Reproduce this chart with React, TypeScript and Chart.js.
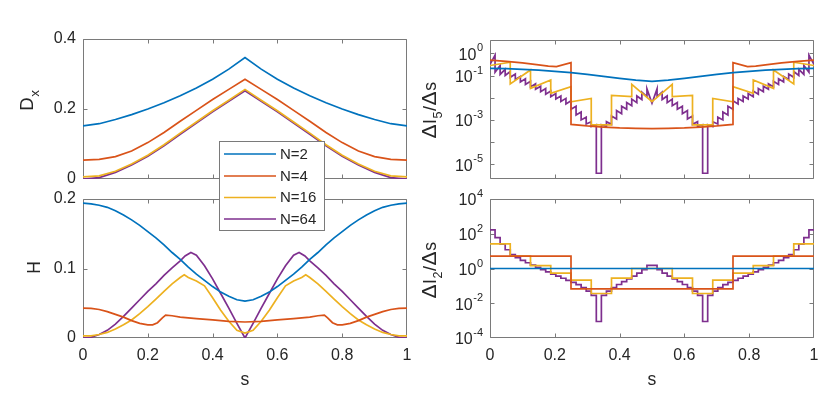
import React, { useEffect, useRef } from 'react';
import { Chart, registerables } from 'chart.js';

Chart.register(...registerables);

// ---------- legend / colours ----------
const seriesLabels = ['N=2', 'N=4', 'N=16', 'N=64'];
const seriesColors = ['#0072BD', '#D95319', '#EDB120', '#7E2F8E'];

// ---------- ticks ----------
const xTickValues = [0, 0.2, 0.4, 0.6, 0.8, 1];
const xTickLabels = ['0', '0.2', '0.4', '0.6', '0.8', '1'];
const dxTickValues = [0, 0.2, 0.4];
const dxTickLabels = ['0', '0.2', '0.4'];
const hTickValues = [0, 0.1, 0.2];
const hTickLabels = ['0', '0.1', '0.2'];
const i5TickExps = [-5, -4, -3, -2, -1, 0];
const i5LabelExps = [-5, -3, -1, 0];
const i2TickExps = [-4, -2, 0, 2, 4];
const i2LabelExps = [-4, -2, 0, 2, 4];

// ---------- panel 1: D_x ----------
const sCoarse = [0, 0.05, 0.1, 0.15, 0.2, 0.25, 0.3, 0.35, 0.4, 0.45, 0.5, 0.55, 0.6, 0.65, 0.7, 0.75, 0.8, 0.85, 0.9, 0.95, 1];
const dxN2 = [0.152, 0.158, 0.170, 0.184, 0.200, 0.218, 0.238, 0.260, 0.285, 0.314, 0.347, 0.314, 0.285, 0.260, 0.238, 0.218, 0.200, 0.184, 0.170, 0.158, 0.152];
const dxN4 = [0.054, 0.056, 0.064, 0.080, 0.104, 0.133, 0.165, 0.196, 0.227, 0.256, 0.285, 0.256, 0.227, 0.196, 0.165, 0.133, 0.104, 0.080, 0.064, 0.056, 0.054];
const dxN16 = [0.006, 0.009, 0.022, 0.043, 0.068, 0.098, 0.131, 0.163, 0.195, 0.225, 0.256, 0.225, 0.195, 0.163, 0.131, 0.098, 0.068, 0.043, 0.022, 0.009, 0.006];
const dxN64 = [0.000, 0.004, 0.019, 0.040, 0.065, 0.095, 0.128, 0.160, 0.192, 0.222, 0.252, 0.222, 0.192, 0.160, 0.128, 0.095, 0.065, 0.040, 0.019, 0.004, 0.000];

// ---------- panel 2: H ----------
const sFine = [0, 0.025, 0.05, 0.075, 0.1, 0.125, 0.15, 0.175, 0.2, 0.225, 0.25, 0.275, 0.3, 0.325, 0.35, 0.375, 0.4, 0.425, 0.45, 0.475, 0.5,
  0.525, 0.55, 0.575, 0.6, 0.625, 0.65, 0.675, 0.7, 0.725, 0.75, 0.775, 0.8, 0.825, 0.85, 0.875, 0.9, 0.925, 0.95, 0.975, 1];
const hN2 = [0.194, 0.193, 0.191, 0.188, 0.183, 0.177, 0.170, 0.162, 0.153, 0.144, 0.134, 0.123, 0.113, 0.102, 0.092, 0.083, 0.074, 0.066, 0.060, 0.055, 0.053,
  0.055, 0.060, 0.066, 0.074, 0.083, 0.092, 0.102, 0.113, 0.123, 0.134, 0.144, 0.153, 0.162, 0.170, 0.177, 0.183, 0.188, 0.191, 0.193, 0.194];
const hN64S = [0, 0.025, 0.05, 0.075, 0.1, 0.125, 0.15, 0.175, 0.2, 0.225, 0.25, 0.275, 0.3, 0.315, 0.333, 0.35, 0.375, 0.4, 0.425, 0.45, 0.475, 0.5,
  0.525, 0.55, 0.575, 0.6, 0.625, 0.65, 0.667, 0.685, 0.7, 0.725, 0.75, 0.775, 0.8, 0.825, 0.85, 0.875, 0.9, 0.925, 0.95, 0.975, 1];
const hN64 = [0.000, 0.001, 0.005, 0.011, 0.020, 0.031, 0.043, 0.055, 0.067, 0.078, 0.090, 0.101, 0.111, 0.118, 0.123, 0.119, 0.104, 0.085, 0.064, 0.043, 0.021, 0.000,
  0.021, 0.043, 0.064, 0.085, 0.104, 0.119, 0.123, 0.118, 0.111, 0.101, 0.090, 0.078, 0.067, 0.055, 0.043, 0.031, 0.020, 0.011, 0.005, 0.001, 0.000];
const hN4S = [0, 0.025, 0.05, 0.075, 0.1, 0.125, 0.15, 0.175, 0.2, 0.215, 0.23, 0.245, 0.255, 0.275, 0.3, 0.35, 0.4, 0.45, 0.5,
  0.55, 0.6, 0.65, 0.7, 0.725, 0.745, 0.755, 0.77, 0.785, 0.8, 0.825, 0.85, 0.875, 0.9, 0.925, 0.95, 0.975, 1];
const hN4 = [0.043, 0.0425, 0.041, 0.038, 0.034, 0.030, 0.025, 0.021, 0.019, 0.019, 0.022, 0.029, 0.033, 0.032, 0.030, 0.028, 0.026, 0.024, 0.023,
  0.024, 0.026, 0.028, 0.030, 0.032, 0.033, 0.029, 0.022, 0.019, 0.019, 0.021, 0.025, 0.030, 0.034, 0.038, 0.041, 0.0425, 0.043];
const hN16S = [0, 0.025, 0.05, 0.075, 0.1, 0.125, 0.15, 0.175, 0.2, 0.225, 0.25, 0.275, 0.3, 0.3125, 0.325, 0.35, 0.375, 0.4, 0.425, 0.45, 0.475, 0.5,
  0.525, 0.55, 0.575, 0.6, 0.625, 0.65, 0.675, 0.6875, 0.7, 0.725, 0.75, 0.775, 0.8, 0.825, 0.85, 0.875, 0.9, 0.925, 0.95, 0.975, 1];
const hN16 = [0.003, 0.003, 0.005, 0.008, 0.013, 0.019, 0.026, 0.035, 0.045, 0.056, 0.067, 0.078, 0.087, 0.091, 0.087, 0.082, 0.075, 0.058, 0.040, 0.024, 0.011, 0.007,
  0.011, 0.024, 0.040, 0.058, 0.075, 0.082, 0.087, 0.091, 0.087, 0.078, 0.067, 0.056, 0.045, 0.035, 0.026, 0.019, 0.013, 0.008, 0.005, 0.003, 0.003];

// ---------- panel 3: dI5/ds (log10 of the value) ----------
const i5N2Exp = [-0.68, -0.69, -0.72, -0.76, -0.81, -0.87, -0.95, -1.04, -1.13, -1.21, -1.26, -1.21, -1.13, -1.04, -0.95, -0.87, -0.81, -0.76, -0.72, -0.69, -0.68];
const i5N4S = [0, 0.05, 0.1, 0.15, 0.18, 0.205, 0.25, 0.25, 0.3, 0.35, 0.4, 0.45, 0.5, 0.55, 0.6, 0.65, 0.7, 0.75, 0.75, 0.795, 0.82, 0.85, 0.9, 0.95, 1];
const i5N4Exp = [-0.31, -0.36, -0.43, -0.52, -0.575, -0.60, -0.42, -3.20, -3.27, -3.32, -3.36, -3.38, -3.39, -3.38, -3.36, -3.32, -3.27, -3.20, -0.42, -0.60, -0.575, -0.52, -0.43, -0.36, -0.31];
const i5N16StartExp = [-0.55, -1.38, -1.58, -1.80, -2.18, -3.22, -1.90, -1.40, -2.18, -1.95, -3.22, -2.03, -1.50, -1.20, -0.75, -0.40];
const i5N16EndExp = [-0.40, -0.75, -1.20, -1.50, -2.03, -3.22, -1.95, -2.18, -1.40, -1.90, -3.22, -2.18, -1.80, -1.58, -1.38, -0.55];
const i5N64StartExp = [
  -0.50, -0.85, -0.95, -1.00, -1.08, -1.18, -1.29, -1.40, -1.51, -1.62, -1.73, -1.84, -1.95, -2.06, -2.17, -2.28,
  -2.52, -2.78, -3.00, -3.18, -3.30, -5.40, -3.22, -3.08, -2.82, -2.58, -2.38, -2.22, -2.06, -1.92, -1.75, -1.60,
  -2.25, -1.95, -2.08, -2.22, -2.36, -2.52, -2.72, -2.96, -3.20, -3.30, -5.40, -3.22, -3.08, -2.88, -2.64, -2.38,
  -2.14, -2.03, -1.92, -1.81, -1.70, -1.59, -1.48, -1.37, -1.26, -1.15, -1.04, -0.93, -0.82, -0.72, -0.55, -0.08];
const i5N64EndExp = [
  -0.08, -0.55, -0.72, -0.82, -0.93, -1.04, -1.15, -1.26, -1.37, -1.48, -1.59, -1.70, -1.81, -1.92, -2.03, -2.14,
  -2.38, -2.64, -2.88, -3.08, -3.22, -5.40, -3.30, -3.20, -2.96, -2.72, -2.52, -2.36, -2.22, -2.08, -1.95, -2.25,
  -1.60, -1.75, -1.92, -2.06, -2.22, -2.38, -2.58, -2.82, -3.08, -3.22, -5.40, -3.30, -3.18, -3.00, -2.78, -2.52,
  -2.28, -2.17, -2.06, -1.95, -1.84, -1.73, -1.62, -1.51, -1.40, -1.29, -1.18, -1.08, -1.00, -0.95, -0.85, -0.50];

// ---------- panel 4: dI2/ds (log10 of the piecewise-constant value) ----------
const i2N2Exp = [0, 0];
const i2N4Exp = [0.71, -1.17, -1.17, 0.71];
const i2N16Exp = [1.42, 0.71, 0.17, -0.27, -0.67, -1.44, -0.55, 0.0, 0.0, -0.55, -1.44, -0.67, -0.27, 0.17, 0.71, 1.42];
const i2N64Exp = [
  2.22, 1.78, 1.40, 1.08, 0.80, 0.62, 0.47, 0.33, 0.20, 0.07, -0.06, -0.19, -0.32, -0.44, -0.56, -0.68,
  -0.80, -0.93, -1.10, -1.30, -1.55, -3.05, -1.55, -1.30, -1.10, -0.92, -0.76, -0.60, -0.44, -0.27, -0.06, 0.18,
  0.18, -0.06, -0.27, -0.44, -0.60, -0.76, -0.92, -1.10, -1.30, -1.55, -3.05, -1.55, -1.30, -1.10, -0.93, -0.80,
  -0.68, -0.56, -0.44, -0.32, -0.19, -0.06, 0.07, 0.20, 0.33, 0.47, 0.62, 0.80, 1.08, 1.40, 1.78, 2.22];

// ---------- helpers ----------
const FONT = '"Liberation Sans", Arial, Helvetica, sans-serif';
const TEXT = '#262626';
const AXIS = '#7a7a7a';
const TICK_LEN = 4;

type Pt = { x: number; y: number };
const zipPts = (xs: number[], ys: number[]): Pt[] => xs.map((x, i) => ({ x, y: ys[i] }));
const zipExpPts = (xs: number[], es: number[]): Pt[] => xs.map((x, i) => ({ x, y: Math.pow(10, es[i]) }));
function segPts(startExp: number[], endExp: number[]): Pt[] {
  const n = startExp.length;
  const pts: Pt[] = [];
  for (let k = 0; k < n; k++) {
    pts.push({ x: k / n, y: Math.pow(10, startExp[k]) });
    pts.push({ x: (k + 1) / n, y: Math.pow(10, endExp[k]) });
  }
  return pts;
}

type Part = { text: string; sub?: boolean; size?: number };
interface Deco {
  yTicks: number[];
  yLabels: { value: number; text: string; exp?: string }[];
  xLabels: boolean;
  yTitle: Part[];
  yTitleX: number;
  yTitleY: number;
  xTitle?: string;
  legend?: boolean;
}

function drawRotated(ctx: CanvasRenderingContext2D, parts: Part[], bx: number, cy: number) {
  const fontOf = (p: Part) => `${p.size ?? (p.sub ? 12.5 : 17.6)}px ${FONT}`;
  ctx.save();
  ctx.translate(bx, cy);
  ctx.rotate(-Math.PI / 2);
  let total = 0;
  const widths = parts.map((p) => {
    ctx.font = fontOf(p);
    const w = ctx.measureText(p.text).width + 0.6;
    total += w;
    return w;
  });
  let x = -total / 2;
  ctx.textAlign = 'left';
  ctx.textBaseline = 'alphabetic';
  ctx.fillStyle = TEXT;
  parts.forEach((p, i) => {
    ctx.font = fontOf(p);
    ctx.fillText(p.text, x, p.sub ? 5.5 : 0);
    x += widths[i];
  });
  ctx.restore();
}

function decoPlugin(d: Deco) {
  return {
    id: 'matlabDeco',
    beforeDatasetsDraw(chart: any) {
      const { ctx, chartArea: a, scales } = chart;
      const L = a.left + 0.5, R = a.right - 0.5, T = a.top + 0.5, B = a.bottom - 0.5;
      ctx.save();
      ctx.strokeStyle = AXIS;
      ctx.lineWidth = 1;
      ctx.beginPath();
      ctx.rect(L, T, R - L, B - T);
      for (const v of xTickValues) {
        let px = Math.round(scales.x.getPixelForValue(v)) + 0.5;
        px = Math.min(Math.max(px, L), R);
        ctx.moveTo(px, B); ctx.lineTo(px, B - TICK_LEN);
        ctx.moveTo(px, T); ctx.lineTo(px, T + TICK_LEN);
      }
      for (const v of d.yTicks) {
        let py = Math.round(scales.y.getPixelForValue(v)) + 0.5;
        py = Math.min(Math.max(py, T), B);
        ctx.moveTo(L, py); ctx.lineTo(L + TICK_LEN, py);
        ctx.moveTo(R, py); ctx.lineTo(R - TICK_LEN, py);
      }
      ctx.stroke();

      ctx.fillStyle = TEXT;
      for (const lab of d.yLabels) {
        const py = scales.y.getPixelForValue(lab.value);
        const xr = a.left - 7;
        if (lab.exp !== undefined) {
          ctx.font = `11px ${FONT}`;
          ctx.textAlign = 'right';
          ctx.textBaseline = 'alphabetic';
          const ew = ctx.measureText(lab.exp).width;
          ctx.fillText(lab.exp, xr, py - 2);
          ctx.font = `16px ${FONT}`;
          ctx.textBaseline = 'middle';
          ctx.fillText(lab.text, xr - ew - 0.5, py + 2);
        } else {
          ctx.font = `16px ${FONT}`;
          ctx.textAlign = 'right';
          ctx.textBaseline = 'middle';
          ctx.fillText(lab.text, xr, py);
        }
      }
      if (d.xLabels) {
        ctx.font = `16px ${FONT}`;
        ctx.textAlign = 'center';
        ctx.textBaseline = 'middle';
        xTickValues.forEach((v, i) => {
          ctx.fillText(xTickLabels[i], scales.x.getPixelForValue(v), a.bottom + 18);
        });
      }
      if (d.xTitle) {
        ctx.font = `17.6px ${FONT}`;
        ctx.textAlign = 'center';
        ctx.textBaseline = 'middle';
        ctx.fillText(d.xTitle, (a.left + a.right) / 2, a.bottom + 42);
      }
      ctx.restore();
      drawRotated(ctx, d.yTitle, d.yTitleX, d.yTitleY);
    },
    afterDraw(chart: any) {
      if (!d.legend) return;
      const ctx: CanvasRenderingContext2D = chart.ctx;
      ctx.save();
      ctx.fillStyle = '#ffffff';
      ctx.fillRect(219.5, 141.5, 105, 89);
      ctx.strokeStyle = AXIS;
      ctx.lineWidth = 1;
      ctx.strokeRect(219.5, 141.5, 105, 89);
      const rows = [154, 176, 197.5, 219];
      ctx.font = `15px ${FONT}`;
      ctx.textAlign = 'left';
      ctx.textBaseline = 'middle';
      seriesLabels.forEach((lab, i) => {
        ctx.strokeStyle = seriesColors[i];
        ctx.lineWidth = 1.7;
        ctx.beginPath();
        ctx.moveTo(224, rows[i]);
        ctx.lineTo(276, rows[i]);
        ctx.stroke();
        ctx.fillStyle = TEXT;
        ctx.fillText(lab, 280, rows[i] + 0.5);
      });
      ctx.restore();
    },
  };
}

function ds(data: Pt[], i: number) {
  return {
    label: seriesLabels[i],
    data,
    borderColor: seriesColors[i],
    backgroundColor: seriesColors[i],
    borderWidth: 1.7,
    pointRadius: 0,
    fill: false,
    tension: 0,
  };
}

type Rect = { l: number; t: number; r: number; b: number };
function makeConfig(datasets: any[], yScale: any, rect: Rect, deco: Deco): any {
  return {
    type: 'line',
    data: { datasets },
    options: {
      animation: false,
      responsive: false,
      devicePixelRatio: 1,
      events: [],
      layout: { padding: { left: rect.l, top: rect.t, right: 830 - rect.r, bottom: 398 - rect.b } },
      plugins: { legend: { display: false }, tooltip: { enabled: false } },
      scales: {
        x: { type: 'linear', min: 0, max: 1, display: false, bounds: 'data' },
        y: { ...yScale, display: false, bounds: 'data' },
      },
    },
    plugins: [decoPlugin(deco)],
  };
}

export default function App() {
  const r1 = useRef<HTMLCanvasElement>(null);
  const r2 = useRef<HTMLCanvasElement>(null);
  const r3 = useRef<HTMLCanvasElement>(null);
  const r4 = useRef<HTMLCanvasElement>(null);

  useEffect(() => {
    const cTL = makeConfig(
      [ds(zipPts(sCoarse, dxN2), 0), ds(zipPts(sCoarse, dxN4), 1), ds(zipPts(sCoarse, dxN16), 2), ds(zipPts(sCoarse, dxN64), 3)],
      { type: 'linear', min: 0, max: 0.4 },
      { l: 83, t: 39, r: 407, b: 179 },
      {
        yTicks: dxTickValues,
        yLabels: dxTickValues.map((v, i) => ({ value: v, text: dxTickLabels[i] })),
        xLabels: false,
        yTitle: [{ text: 'D', size: 18.5 }, { text: 'x', sub: true, size: 13.5 }],
        yTitleX: 33,
        yTitleY: 100,
      }
    );
    const titleI = (n: string): Part[] => [
      { text: '\u0394', size: 21 }, { text: 'I' }, { text: n, sub: true }, { text: '/' }, { text: '\u0394', size: 21 }, { text: 's' },
    ];
    const cTR = makeConfig(
      [ds(zipExpPts(sCoarse, i5N2Exp), 0), ds(zipExpPts(i5N4S, i5N4Exp), 1), ds(segPts(i5N16StartExp, i5N16EndExp), 2), ds(segPts(i5N64StartExp, i5N64EndExp), 3)],
      { type: 'logarithmic', min: Math.pow(10, -5.66), max: Math.pow(10, 0.6) },
      { l: 490, t: 40, r: 814, b: 179 },
      {
        yTicks: i5TickExps.map((e) => Math.pow(10, e)),
        yLabels: i5LabelExps.map((e) => ({ value: Math.pow(10, e), text: '10', exp: String(e) })),
        xLabels: false,
        yTitle: titleI('5'),
        yTitleX: 436,
        yTitleY: 110,
      }
    );
    const cBR = makeConfig(
      [ds(segPts(i2N2Exp, i2N2Exp), 0), ds(segPts(i2N4Exp, i2N4Exp), 1), ds(segPts(i2N16Exp, i2N16Exp), 2), ds(segPts(i2N64Exp, i2N64Exp), 3)],
      { type: 'logarithmic', min: 1e-4, max: 1e4 },
      { l: 490, t: 199, r: 814, b: 338 },
      {
        yTicks: i2TickExps.map((e) => Math.pow(10, e)),
        yLabels: i2LabelExps.map((e) => ({ value: Math.pow(10, e), text: '10', exp: String(e) })),
        xLabels: true,
        yTitle: titleI('2'),
        yTitleX: 436,
        yTitleY: 270,
        xTitle: 's',
      }
    );
    const cBL = makeConfig(
      [ds(zipPts(sFine, hN2), 0), ds(zipPts(hN4S, hN4), 1), ds(zipPts(hN16S, hN16), 2), ds(zipPts(hN64S, hN64), 3)],
      { type: 'linear', min: 0, max: 0.2 },
      { l: 83, t: 199, r: 407, b: 338 },
      {
        yTicks: hTickValues,
        yLabels: hTickValues.map((v, i) => ({ value: v, text: hTickLabels[i] })),
        xLabels: true,
        yTitle: [{ text: 'H' }],
        yTitleX: 40,
        yTitleY: 267,
        xTitle: 's',
        legend: true,
      }
    );
    const charts = [
      new Chart(r1.current as HTMLCanvasElement, cTL),
      new Chart(r2.current as HTMLCanvasElement, cTR),
      new Chart(r3.current as HTMLCanvasElement, cBR),
      new Chart(r4.current as HTMLCanvasElement, cBL),
    ];
    return () => charts.forEach((c) => c.destroy());
  }, []);

  const cs: React.CSSProperties = { position: 'absolute', left: 0, top: 0, width: 830, height: 398 };
  return (
    <div style={{ position: 'fixed', left: 0, top: 0, width: 830, height: 398, background: '#ffffff' }}>
      <canvas ref={r1} width={830} height={398} style={cs} />
      <canvas ref={r2} width={830} height={398} style={cs} />
      <canvas ref={r3} width={830} height={398} style={cs} />
      <canvas ref={r4} width={830} height={398} style={cs} />
    </div>
  );
}
